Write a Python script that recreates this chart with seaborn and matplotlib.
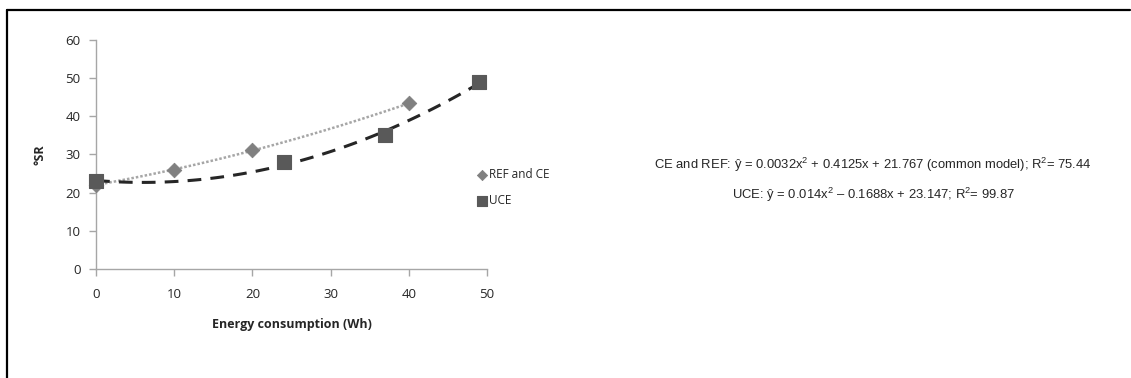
import matplotlib
matplotlib.use("Agg")
import matplotlib.pyplot as plt
from matplotlib.lines import Line2D
import numpy as np
import pandas as pd
import seaborn as sns

# data
ref_x = [0, 10, 20, 40]
ref_y = [22, 26, 31, 43.3]
uce_x = [0, 24, 37, 49]
uce_y = [23, 28, 35, 49]
x_ticks = [0, 10, 20, 30, 40, 50]
y_ticks = [0, 10, 20, 30, 40, 50, 60]
eq_ref = "CE and REF: ŷ = 0.0032x$^{2}$ + 0.4125x + 21.767 (common model); R$^{2}$= 75.44"
eq_uce = "UCE: ŷ = 0.014x$^{2}$ – 0.1688x + 23.147; R$^{2}$= 99.87"

ref = pd.DataFrame({"x": ref_x, "y": ref_y})
uce = pd.DataFrame({"x": uce_x, "y": uce_y})

sns.set_style("white")
plt.rcParams["font.family"] = ["Open Sans", "DejaVu Sans"]
plt.rcParams["mathtext.fontset"] = "custom"
plt.rcParams["mathtext.rm"] = "Liberation Sans"

fig = plt.figure(figsize=(11.31, 3.78), dpi=100)
ax = fig.add_axes([0.0849, 0.2884, 0.3457, 0.607])

# quadratic trend lines
sns.regplot(data=ref, x="x", y="y", order=2, ci=None, scatter=False, ax=ax,
            line_kws=dict(color="#a6a6a6", lw=1.8, ls=(0, (1, 0.8))))
sns.regplot(data=uce, x="x", y="y", order=2, ci=None, scatter=False, ax=ax,
            line_kws=dict(color="#262626", lw=2.2, ls=(0, (4.5, 3))))

sns.scatterplot(data=ref, x="x", y="y", marker="D", s=55, color="#808080",
                edgecolor="#808080", ax=ax, label="REF and CE", zorder=3,
                clip_on=False)
sns.scatterplot(data=uce, x="x", y="y", marker="s", s=100, color="#595959",
                edgecolor="#595959", ax=ax, label="UCE", zorder=3,
                clip_on=False)

ax.set_xlim(0, 50)
ax.set_ylim(0, 60)
ax.set_xticks(x_ticks)
ax.set_yticks(y_ticks)
ax.set_xticklabels([str(t) for t in x_ticks], fontsize=9.5, color="#262626")
ax.set_yticklabels([str(t) for t in y_ticks], fontsize=9.5, color="#262626")
ax.tick_params(axis="both", length=5, width=1, color="#a6a6a6", direction="out",
               bottom=True, left=True, pad=6)
ax.tick_params(axis="x", pad=9)
for s in ["top", "right"]:
    ax.spines[s].set_visible(False)
for s in ["left", "bottom"]:
    ax.spines[s].set_color("#a6a6a6")
    ax.spines[s].set_linewidth(1)

ax.set_xlabel("Energy consumption (Wh)", fontsize=9, fontweight="bold",
              color="#262626", labelpad=12)
ax.set_ylabel("°SR", fontsize=9, fontweight="bold", color="#262626", labelpad=14)
ax.patch.set_alpha(0)

leg = ax.legend(loc="center left", bbox_to_anchor=(0.945, 0.355), frameon=False,
                fontsize=8.5, handletextpad=0.1, labelspacing=1.15,
                markerscale=0.7, handlelength=1)
for t in leg.get_texts():
    t.set_color("#262626")

fig.text(0.772, 0.563, eq_ref, ha="center", va="center", fontsize=9.4,
         family="Liberation Sans")
fig.text(0.772, 0.484, eq_uce, ha="center", va="center", fontsize=9.4,
         family="Liberation Sans")

# outer frame (top and left)
fig.add_artist(Line2D([0.0062, 0.999], [0.9735, 0.9735], color="black", lw=1.6))
fig.add_artist(Line2D([0.0062, 0.0062], [0.0, 0.9735], color="black", lw=1.6))

fig.savefig("out.png", dpi=100)
